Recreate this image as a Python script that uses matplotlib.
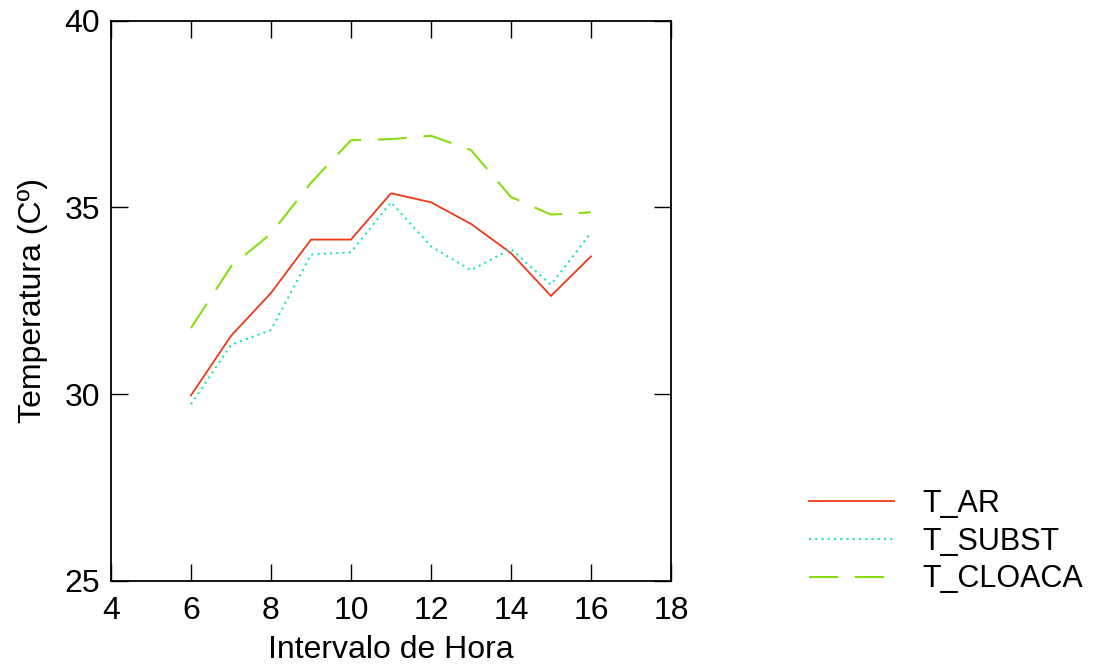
import numpy as np
import matplotlib
matplotlib.use("Agg")
import matplotlib.pyplot as plt

plt.rcParams["font.family"] = ["Liberation Sans", "DejaVu Sans"]

hours = [6, 7, 8, 9, 10, 11, 12, 13, 14, 15, 16]
t_ar = [29.97, 31.56, 32.71, 34.14, 34.14, 35.38, 35.14, 34.56, 33.78, 32.63, 33.69]
t_subst = [29.73, 31.32, 31.72, 33.74, 33.80, 35.14, 33.96, 33.32, 33.89, 32.93, 34.32]
t_cloaca = [31.77, 33.42, 34.30, 35.66, 36.80, 36.83, 36.92, 36.54, 35.28, 34.81, 34.87]

xticks = [4, 6, 8, 10, 12, 14, 16, 18]
yticks = [25, 30, 35, 40]

fig = plt.figure(figsize=(10.99, 6.70), dpi=100)
ax = fig.add_axes([0.101, 0.133, 0.5095, 0.836])

ax.plot(hours, t_ar, color="#ee3a16", lw=1.3, label="T_AR")
ax.plot(hours, t_subst, color="#1ee8b0", lw=1.5, linestyle=(0, (1, 2)), label="T_SUBST")
ax.plot(hours, t_cloaca, color="#88dd11", lw=1.5, linestyle=(0, (14, 8)), label="T_CLOACA")

ax.set_xlim(4, 18)
ax.set_ylim(25, 40)
ax.set_xticks(xticks)
ax.set_yticks(yticks)
ax.tick_params(direction="in", length=12, width=1.0, top=True, right=True,
               labelsize=23, colors="black")
ax.tick_params(axis="x", pad=11)
ax.tick_params(axis="y", pad=8)
for s in ax.spines.values():
    s.set_linewidth(1.3)

ax.set_xlabel("Intervalo de Hora", fontsize=23, labelpad=6)
ax.set_ylabel("Temperatura (Cº)", fontsize=23, labelpad=12)

fig.legend(loc="lower left", bbox_to_anchor=(0.711, 0.072), frameon=False,
           fontsize=22, handlelength=2.8, handletextpad=0.9, labelspacing=0.25)

fig.savefig("out.png", dpi=100)
